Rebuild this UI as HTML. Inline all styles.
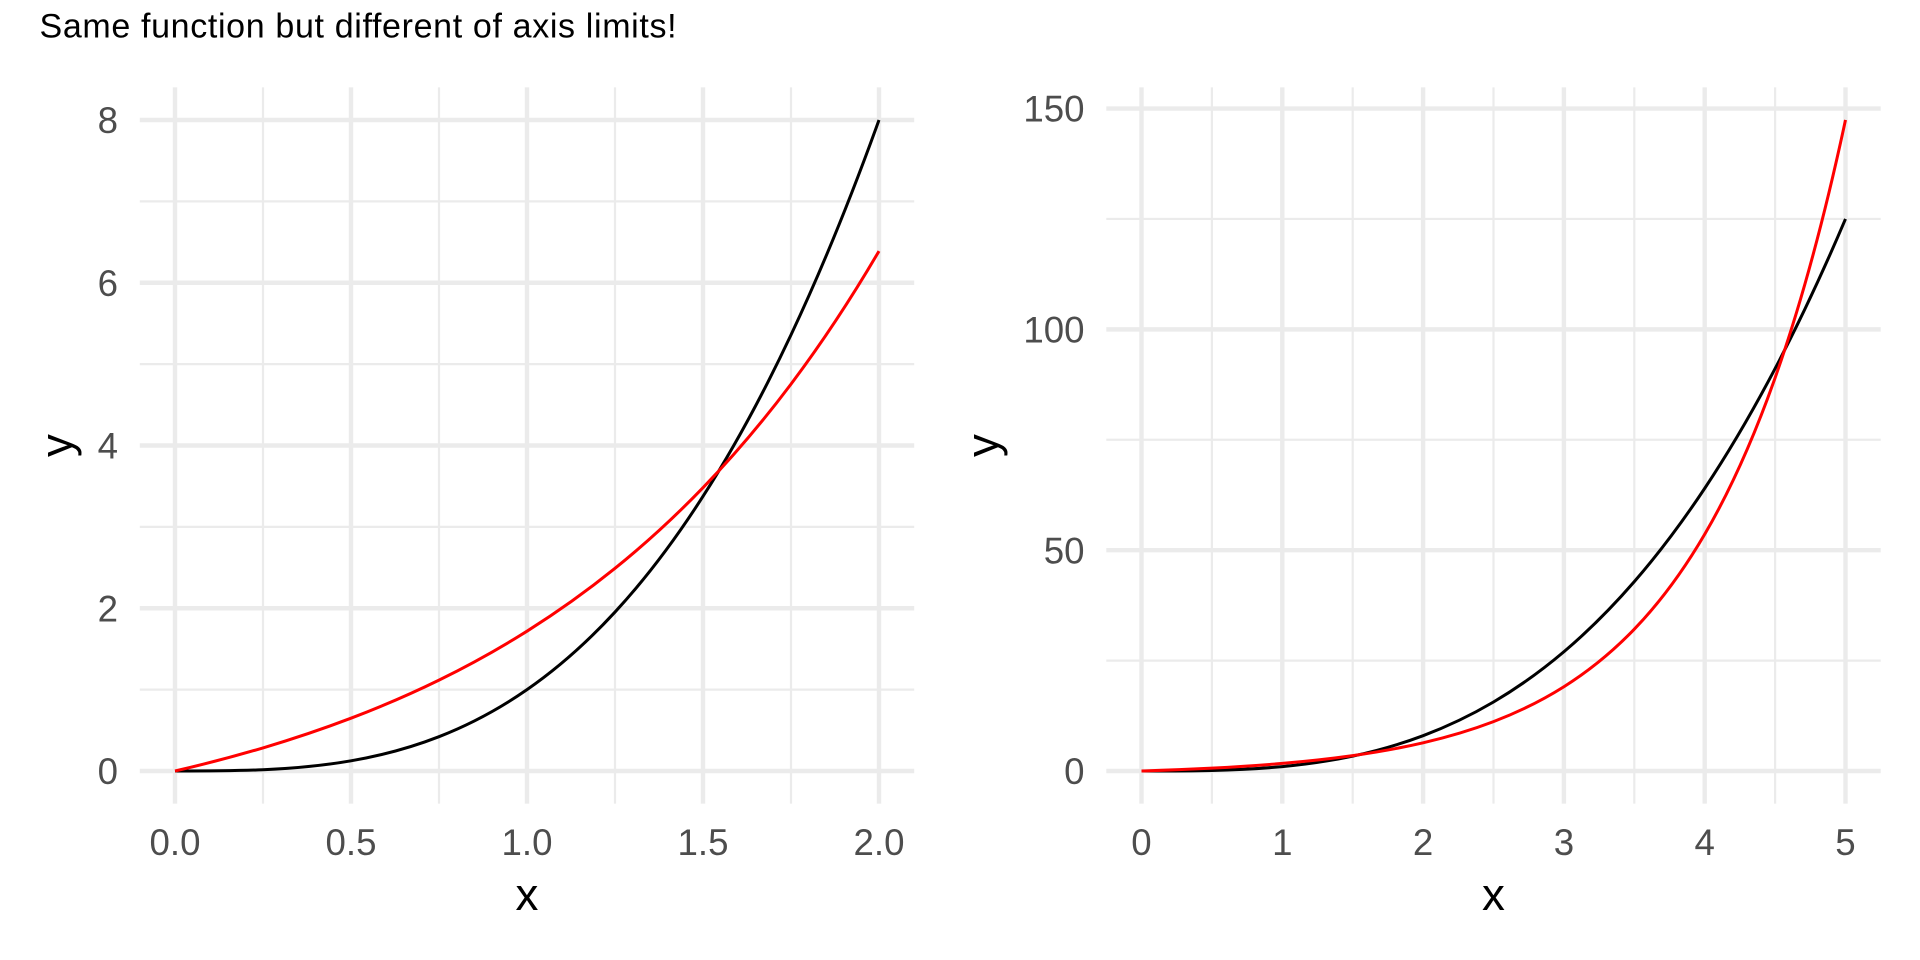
<!DOCTYPE html>
<html>
<head>
<meta charset="utf-8">
<style>
  html, body { margin: 0; padding: 0; background: #ffffff; }
  svg { display: block; }
  text { font-family: "Liberation Sans", Arial, sans-serif; }
</style>
</head>
<body>
<svg xmlns="http://www.w3.org/2000/svg" width="1920" height="960" viewBox="0 0 1920 960">
  <rect x="0" y="0" width="1920" height="960" fill="#ffffff"/>

  <!-- Title -->
  <text x="39.5" y="37.5" font-size="34" letter-spacing="0.65" fill="#000000">Same function but different of axis limits!</text>

  <!-- ================= LEFT PANEL ================= -->
  <g stroke="#EBEBEB" fill="none">
    <g stroke-width="2.2">
      <line x1="263" y1="87.4" x2="263" y2="803.6"/>
      <line x1="439" y1="87.4" x2="439" y2="803.6"/>
      <line x1="615" y1="87.4" x2="615" y2="803.6"/>
      <line x1="791" y1="87.4" x2="791" y2="803.6"/>
      <line x1="139.8" y1="689.63" x2="914.2" y2="689.63"/>
      <line x1="139.8" y1="526.88" x2="914.2" y2="526.88"/>
      <line x1="139.8" y1="364.13" x2="914.2" y2="364.13"/>
      <line x1="139.8" y1="201.38" x2="914.2" y2="201.38"/>
    </g>
    <g stroke-width="4.4">
      <line x1="175" y1="87.4" x2="175" y2="803.6"/>
      <line x1="351" y1="87.4" x2="351" y2="803.6"/>
      <line x1="527" y1="87.4" x2="527" y2="803.6"/>
      <line x1="703" y1="87.4" x2="703" y2="803.6"/>
      <line x1="879" y1="87.4" x2="879" y2="803.6"/>
      <line x1="139.8" y1="771" x2="914.2" y2="771"/>
      <line x1="139.8" y1="608.25" x2="914.2" y2="608.25"/>
      <line x1="139.8" y1="445.5" x2="914.2" y2="445.5"/>
      <line x1="139.8" y1="282.75" x2="914.2" y2="282.75"/>
      <line x1="139.8" y1="120" x2="914.2" y2="120"/>
    </g>
  </g>

  <!-- left curves -->
  <path fill="none" stroke="#000000" stroke-width="3" stroke-linejoin="round"
    d="M175,771 C204.33,771 233.67,771 263,769.73 C292.33,768.46 321.67,765.92 351,760.83 C380.33,755.74 409.67,748.11 439,736.67 C468.33,725.23 497.67,709.97 527,689.63 C556.33,669.29 585.67,643.85 615,612.06 C644.33,580.27 673.67,542.13 703,496.36 C732.33,450.59 761.67,397.18 791,334.88 C820.33,272.58 849.67,201.38 879,120"/>
  <path fill="none" stroke="#FF0000" stroke-width="3" stroke-linejoin="round"
    d="M175,771 C204.33,764.22 233.67,756.60 263,747.89 C292.33,739.18 321.67,729.39 351,718.21 C380.33,707.03 409.67,694.47 439,680.11 C468.33,665.75 497.67,649.61 527,631.18 C556.33,612.75 585.67,592.02 615,568.35 C644.33,544.68 673.67,518.07 703,487.68 C732.33,457.29 761.67,423.11 791,384.09 C820.33,345.07 849.67,301.20 879,251.09"/>

  <!-- left y tick labels -->
  <g font-size="36.67" fill="#4D4D4D" text-anchor="end">
    <text x="118" y="784.1">0</text>
    <text x="118" y="621.35">2</text>
    <text x="118" y="458.6">4</text>
    <text x="118" y="295.85">6</text>
    <text x="118" y="133.1">8</text>
  </g>
  <!-- left x tick labels -->
  <g font-size="36.67" fill="#4D4D4D" text-anchor="middle">
    <text x="175" y="855">0.0</text>
    <text x="351" y="855">0.5</text>
    <text x="527" y="855">1.0</text>
    <text x="703" y="855">1.5</text>
    <text x="879" y="855">2.0</text>
  </g>
  <!-- left axis titles -->
  <text x="527" y="910" font-size="45.8" fill="#000000" text-anchor="middle">x</text>
  <text x="0" y="0" font-size="45.8" fill="#000000" text-anchor="middle" transform="translate(72,445.5) rotate(-90)">y</text>

  <!-- ================= RIGHT PANEL ================= -->
  <g stroke="#EBEBEB" fill="none">
    <g stroke-width="2.2">
      <line x1="1211.9" y1="87.4" x2="1211.9" y2="803.6"/>
      <line x1="1352.7" y1="87.4" x2="1352.7" y2="803.6"/>
      <line x1="1493.5" y1="87.4" x2="1493.5" y2="803.6"/>
      <line x1="1634.3" y1="87.4" x2="1634.3" y2="803.6"/>
      <line x1="1775.1" y1="87.4" x2="1775.1" y2="803.6"/>
      <line x1="1106.3" y1="660.59" x2="1880.7" y2="660.59"/>
      <line x1="1106.3" y1="439.78" x2="1880.7" y2="439.78"/>
      <line x1="1106.3" y1="218.96" x2="1880.7" y2="218.96"/>
    </g>
    <g stroke-width="4.4">
      <line x1="1141.5" y1="87.4" x2="1141.5" y2="803.6"/>
      <line x1="1282.3" y1="87.4" x2="1282.3" y2="803.6"/>
      <line x1="1423.1" y1="87.4" x2="1423.1" y2="803.6"/>
      <line x1="1563.9" y1="87.4" x2="1563.9" y2="803.6"/>
      <line x1="1704.7" y1="87.4" x2="1704.7" y2="803.6"/>
      <line x1="1845.5" y1="87.4" x2="1845.5" y2="803.6"/>
      <line x1="1106.3" y1="771" x2="1880.7" y2="771"/>
      <line x1="1106.3" y1="550.19" x2="1880.7" y2="550.19"/>
      <line x1="1106.3" y1="329.37" x2="1880.7" y2="329.37"/>
      <line x1="1106.3" y1="108.55" x2="1880.7" y2="108.55"/>
    </g>
  </g>

  <!-- right curves -->
  <path fill="none" stroke="#000000" stroke-width="3" stroke-linejoin="round"
    d="M1141.5,771 C1164.97,771 1188.43,771 1211.9,770.45 C1235.37,769.90 1258.83,768.79 1282.3,766.58 C1305.77,764.37 1329.23,761.07 1352.7,756.10 C1376.17,751.13 1399.63,744.50 1423.1,735.67 C1446.57,726.84 1470.03,715.79 1493.5,701.99 C1516.97,688.19 1540.43,671.63 1563.9,651.76 C1587.37,631.89 1610.83,608.70 1634.3,581.65 C1657.77,554.60 1681.23,523.69 1704.7,488.36 C1728.17,453.03 1751.63,413.28 1775.1,368.56 C1798.57,323.85 1822.03,274.16 1845.5,218.96"/>
  <path fill="none" stroke="#FF0000" stroke-width="3" stroke-linejoin="round"
    d="M1141.5,771 C1164.97,770.26 1188.43,769.35 1211.9,768.14 C1235.37,766.93 1258.83,765.41 1282.3,763.41 C1305.77,761.41 1329.23,758.92 1352.7,755.62 C1376.17,752.32 1399.63,748.22 1423.1,742.78 C1446.57,737.34 1470.03,730.58 1493.5,721.61 C1516.97,712.64 1540.43,701.49 1563.9,686.71 C1587.37,671.93 1610.83,653.55 1634.3,629.17 C1657.77,604.79 1681.23,574.48 1704.7,534.29 C1728.17,494.10 1751.63,444.13 1775.1,377.88 C1798.57,311.62 1822.03,229.22 1845.5,119.98"/>

  <!-- right y tick labels -->
  <g font-size="36.67" fill="#4D4D4D" text-anchor="end">
    <text x="1084.5" y="784.1">0</text>
    <text x="1084.5" y="563.3">50</text>
    <text x="1084.5" y="342.5">100</text>
    <text x="1084.5" y="121.65">150</text>
  </g>
  <!-- right x tick labels -->
  <g font-size="36.67" fill="#4D4D4D" text-anchor="middle">
    <text x="1141.5" y="855">0</text>
    <text x="1282.3" y="855">1</text>
    <text x="1423.1" y="855">2</text>
    <text x="1563.9" y="855">3</text>
    <text x="1704.7" y="855">4</text>
    <text x="1845.5" y="855">5</text>
  </g>
  <!-- right axis titles -->
  <text x="1493.5" y="910" font-size="45.8" fill="#000000" text-anchor="middle">x</text>
  <text x="0" y="0" font-size="45.8" fill="#000000" text-anchor="middle" transform="translate(998,445.5) rotate(-90)">y</text>
</svg>
</body>
</html>
